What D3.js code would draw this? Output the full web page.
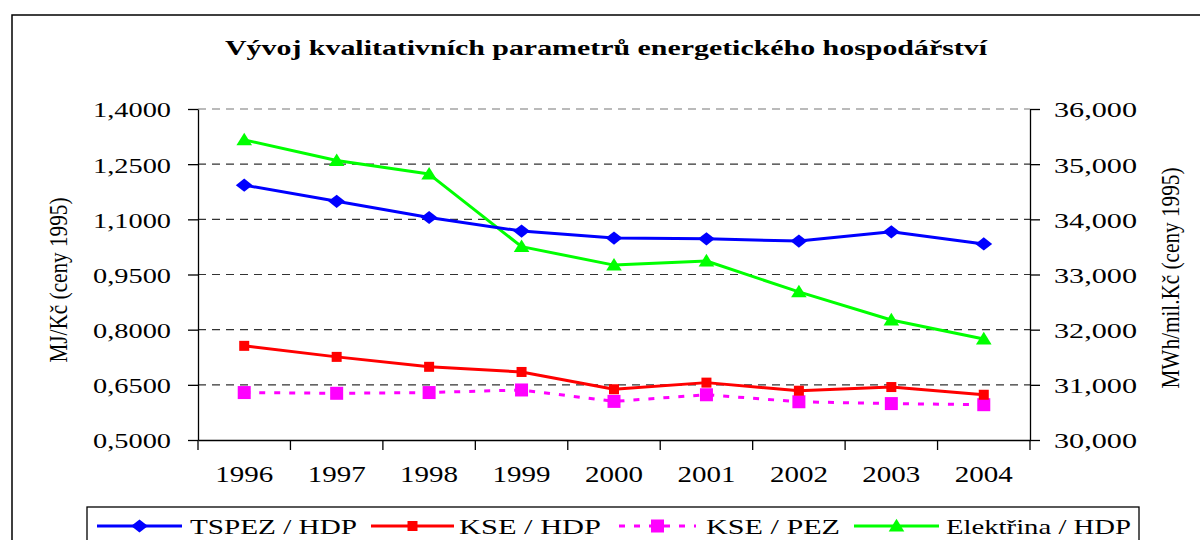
<!DOCTYPE html>
<html>
<head>
<meta charset="utf-8">
<script src="https://cdn.jsdelivr.net/npm/d3@7"></script>
<style>
  html, body { margin: 0; padding: 0; background: #fff; }
  svg { display: block; }
  text { font-family: "Liberation Serif", "Times New Roman", "DejaVu Serif", serif; fill: #000; }
</style>
</head>
<body>
<svg id="chart" width="1200" height="540"></svg>
<script>
// ---- data ----
const years = ["1996","1997","1998","1999","2000","2001","2002","2003","2004"];
const tspezHdp = [1.193, 1.149, 1.105, 1.068, 1.049, 1.047, 1.041, 1.066, 1.033];
const kseHdp   = [0.756, 0.726, 0.699, 0.685, 0.638, 0.656, 0.634, 0.644, 0.623];
const kseZez   = [0.629, 0.627, 0.629, 0.636, 0.605, 0.623, 0.604, 0.599, 0.596];
const elektrinaHdp = [35440, 35065, 34820, 33505, 33170, 33245, 32685, 32175, 31830];
const leftTicks = [0.5, 0.65, 0.8, 0.95, 1.1, 1.25, 1.4];
const leftTickLabels = ["0,5000","0,6500","0,8000","0,9500","1,1000","1,2500","1,4000"];
const rightTicks = [30000, 31000, 32000, 33000, 34000, 35000, 36000];
const rightTickLabels = ["30,000","31,000","32,000","33,000","34,000","35,000","36,000"];
const title = "Vývoj kvalitativních parametrů energetického hospodářství";
const leftTitle = "MJ/Kč (ceny 1995)";
const rightTitle = "MWh/mil.Kč (ceny 1995)";
const seriesNames = ["TSPEZ / HDP", "KSE / HDP", "KSE / PEZ", "Elektřina / HDP"];

// ---- layout ----
const svg = d3.select("#chart");
const L = 198, R = 1030, T = 109, B = 440;

const x = d3.scaleBand().domain(years).range([L, R]).padding(0);
const yL = d3.scaleLinear().domain([0.5, 1.4]).range([B, T]);
const yR = d3.scaleLinear().domain([30000, 36000]).range([B, T]);

// outer frame
svg.append("rect").attr("x", 12).attr("y", 15).attr("width", 1200).attr("height", 560)
  .attr("fill", "none").attr("stroke", "#000").attr("stroke-width", 1.5);

// title
svg.append("text").attr("x", 225).attr("y", 55).text(title)
  .attr("font-size", 20).attr("font-weight", "bold")
  .attr("textLength", 762).attr("lengthAdjust", "spacingAndGlyphs");

// gridlines
svg.append("g").selectAll("line").data(leftTicks.filter(d => d > 0.5)).join("line")
  .attr("x1", L).attr("x2", R).attr("y1", d => yL(d)).attr("y2", d => yL(d))
  .attr("stroke", d => d === 1.4 ? "#777" : "#333").attr("stroke-width", 1.2)
  .attr("stroke-dasharray", "8,6");

// left axis
const gL = svg.append("g").attr("transform", `translate(${L},0)`)
  .call(d3.axisLeft(yL).tickValues(leftTicks).tickSize(10).tickSizeOuter(0)
    .tickFormat((d, i) => leftTickLabels[i]));
gL.select(".domain").attr("stroke", "#000").attr("stroke-width", 1.3);
gL.selectAll(".tick line").attr("stroke", "#000").attr("stroke-width", 1.3);
gL.selectAll(".tick text").attr("x", -27).attr("dy", "0.36em")
  .attr("font-size", 22).attr("font-family", "Liberation Serif, serif").attr("fill", "#000")
  .attr("textLength", 78).attr("lengthAdjust", "spacingAndGlyphs");

// right axis
const gR = svg.append("g").attr("transform", `translate(${R},0)`)
  .call(d3.axisRight(yR).tickValues(rightTicks).tickSize(10).tickSizeOuter(0)
    .tickFormat((d, i) => rightTickLabels[i]));
gR.select(".domain").attr("stroke", "#000").attr("stroke-width", 1.3);
gR.selectAll(".tick line").attr("stroke", "#000").attr("stroke-width", 1.3);
gR.selectAll(".tick text").attr("x", 24).attr("dy", "0.36em")
  .attr("font-size", 22).attr("font-family", "Liberation Serif, serif").attr("fill", "#000")
  .attr("textLength", 83).attr("lengthAdjust", "spacingAndGlyphs");

// bottom axis
const gB = svg.append("g").attr("transform", `translate(0,${B})`)
  .call(d3.axisBottom(x).tickSize(0).tickSizeOuter(0));
gB.select(".domain").attr("stroke", "#000").attr("stroke-width", 1.3);
gB.selectAll(".tick line").remove();
gB.selectAll(".tick text").attr("y", 42).attr("dy", 0)
  .attr("font-size", 24).attr("font-family", "Liberation Serif, serif").attr("fill", "#000")
  .attr("textLength", 58).attr("lengthAdjust", "spacingAndGlyphs");
// category boundary ticks
gB.append("g").selectAll("line").data(years).join("line")
  .attr("x1", d => x(d)).attr("x2", d => x(d)).attr("y1", 0).attr("y2", 10)
  .attr("stroke", "#000").attr("stroke-width", 1.3);
gB.append("line").attr("x1", R).attr("x2", R).attr("y1", 0).attr("y2", 10)
  .attr("stroke", "#000").attr("stroke-width", 1.3);

// axis titles
svg.append("text").attr("transform", "translate(67,280) rotate(-90)")
  .attr("text-anchor", "middle").attr("font-size", 25).text(leftTitle)
  .attr("textLength", 165).attr("lengthAdjust", "spacingAndGlyphs");
svg.append("text").attr("transform", "translate(1179,278) rotate(-90)")
  .attr("text-anchor", "middle").attr("font-size", 25).text(rightTitle)
  .attr("textLength", 221).attr("lengthAdjust", "spacingAndGlyphs");

// ---- series ----
const cx = d => x(d) + x.bandwidth() / 2;
function diamondPath(s) { return `M0,${-s*0.55}L${s*0.7},0L0,${s*0.55}L${-s*0.7},0Z`; }
function triPath(s) { return `M0,${-s*0.6}L${s*0.65},${s*0.45}L${-s*0.65},${s*0.45}Z`; }

function drawLine(vals, yScale, color, dash, width) {
  const line = d3.line().x((d, i) => cx(years[i])).y(d => yScale(d));
  svg.append("path").datum(vals).attr("d", line).attr("fill", "none")
    .attr("stroke", color).attr("stroke-width", width)
    .attr("stroke-dasharray", dash || null).attr("stroke-linejoin", "round");
}

// green Elektřina (right axis)
drawLine(elektrinaHdp, yR, "#00ff00", null, 3);
svg.append("g").selectAll("path").data(elektrinaHdp).join("path")
  .attr("transform", (d, i) => `translate(${cx(years[i])},${yR(d)})`)
  .attr("d", triPath(12)).attr("fill", "#00ff00");

// blue TSPEZ
drawLine(tspezHdp, yL, "#0000ff", null, 3);
svg.append("g").selectAll("path").data(tspezHdp).join("path")
  .attr("transform", (d, i) => `translate(${cx(years[i])},${yL(d)})`)
  .attr("d", diamondPath(12)).attr("fill", "#0000ff");

// magenta KSE/PEZ
drawLine(kseZez, yL, "#ff00ff", "6,9", 3);
svg.append("g").selectAll("rect").data(kseZez).join("rect")
  .attr("x", (d, i) => cx(years[i]) - 6.5).attr("y", d => yL(d) - 6.5)
  .attr("width", 13).attr("height", 13).attr("fill", "#ff00ff");

// red KSE/HDP
drawLine(kseHdp, yL, "#ff0000", null, 3);
svg.append("g").selectAll("rect").data(kseHdp).join("rect")
  .attr("x", (d, i) => cx(years[i]) - 5).attr("y", d => yL(d) - 5)
  .attr("width", 10).attr("height", 10).attr("fill", "#ff0000");

// ---- legend ----
const lg = svg.append("g");
lg.append("rect").attr("x", 87).attr("y", 507).attr("width", 1052).attr("height", 60)
  .attr("fill", "#fff").attr("stroke", "#000").attr("stroke-width", 1.3);
const ly = 526;
const legendItems = [
  { x1: 97, x2: 182, color: "#0000ff", dash: null, mark: "diamond", tx: 190, tl: 167 },
  { x1: 371, x2: 454, color: "#ff0000", dash: null, mark: "square", tx: 459, tl: 142 },
  { x1: 619, x2: 696, color: "#ff00ff", dash: "6,9", mark: "bigsquare", tx: 706, tl: 134 },
  { x1: 854, x2: 939, color: "#00ff00", dash: null, mark: "tri", tx: 946, tl: 185 }
];
legendItems.forEach((it, i) => {
  lg.append("line").attr("x1", it.x1).attr("x2", it.x2).attr("y1", ly).attr("y2", ly)
    .attr("stroke", it.color).attr("stroke-width", 3).attr("stroke-dasharray", it.dash);
  const mx = (it.x1 + it.x2) / 2;
  if (it.mark === "diamond") lg.append("path").attr("transform", `translate(${mx},${ly})`).attr("d", diamondPath(12)).attr("fill", it.color);
  if (it.mark === "square") lg.append("rect").attr("x", mx - 5).attr("y", ly - 5).attr("width", 10).attr("height", 10).attr("fill", it.color);
  if (it.mark === "bigsquare") lg.append("rect").attr("x", mx - 6.5).attr("y", ly - 6.5).attr("width", 13).attr("height", 13).attr("fill", it.color);
  if (it.mark === "tri") lg.append("path").attr("transform", `translate(${mx},${ly})`).attr("d", triPath(12)).attr("fill", it.color);
  lg.append("text").attr("x", it.tx).attr("y", ly + 8).attr("font-size", 22).text(seriesNames[i])
    .attr("textLength", it.tl).attr("lengthAdjust", "spacingAndGlyphs");
});
</script>
</body>
</html>
